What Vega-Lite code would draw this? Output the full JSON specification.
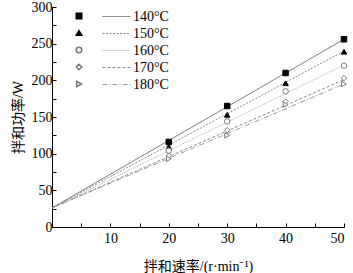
{
  "$schema": "https://vega.github.io/schema/vega-lite/v6.json",
  "width": 292,
  "height": 220,
  "autosize": "none",
  "padding": {"left": 52, "top": 7, "right": 9, "bottom": 46},
  "background": "white",
  "config": {
    "view": {"stroke": null},
    "font": "Liberation Serif",
    "axis": {"grid": false, "domainColor": "#000", "tickColor": "#000", "labelColor": "#000", "titleColor": "#000", "labelFont": "Liberation Serif", "titleFont": "Liberation Serif, Noto Sans CJK SC", "labelFontSize": 14, "titleFontSize": 14, "titleFontWeight": "normal", "tickSize": -4, "domainWidth": 1, "tickWidth": 1},
    "legend": {"labelFont": "Liberation Serif", "labelFontSize": 14, "labelColor": "#000"}
  },
  "datasets": {
    "pts": [
      {"speed": 20, "power": 116, "temp": 140},
      {"speed": 30, "power": 165, "temp": 140},
      {"speed": 40, "power": 210, "temp": 140},
      {"speed": 50, "power": 256, "temp": 140},
      {"speed": 20, "power": 109, "temp": 150},
      {"speed": 30, "power": 153, "temp": 150},
      {"speed": 40, "power": 196, "temp": 150},
      {"speed": 50, "power": 239, "temp": 150},
      {"speed": 20, "power": 104, "temp": 160},
      {"speed": 30, "power": 144, "temp": 160},
      {"speed": 40, "power": 185, "temp": 160},
      {"speed": 50, "power": 220, "temp": 160},
      {"speed": 20, "power": 97, "temp": 170},
      {"speed": 30, "power": 132, "temp": 170},
      {"speed": 40, "power": 171, "temp": 170},
      {"speed": 50, "power": 203, "temp": 170},
      {"speed": 20, "power": 93, "temp": 180},
      {"speed": 30, "power": 125, "temp": 180},
      {"speed": 40, "power": 167, "temp": 180},
      {"speed": 50, "power": 195, "temp": 180}
    ],
    "fits": [
      {"speed": 0, "power": 26, "fit": "140°C"},
      {"speed": 50, "power": 256, "fit": "140°C"},
      {"speed": 0, "power": 26, "fit": "150°C"},
      {"speed": 50, "power": 240, "fit": "150°C"},
      {"speed": 0, "power": 26, "fit": "160°C"},
      {"speed": 50, "power": 221, "fit": "160°C"},
      {"speed": 0, "power": 26, "fit": "170°C"},
      {"speed": 50, "power": 201, "fit": "170°C"},
      {"speed": 0, "power": 26, "fit": "180°C"},
      {"speed": 50, "power": 195, "fit": "180°C"}
    ]
  },
  "encoding": {
    "x": {"field": "speed", "type": "quantitative", "scale": {"domain": [0, 50], "nice": false},
      "axis": {"title": "拌和速率/(r·min⁻¹)", "values": [0, 5, 10, 15, 20, 25, 30, 35, 40, 45, 50], "labelExpr": "datum.value % 10 === 0 && datum.value > 0 ? datum.label : ''", "labelPadding": 8, "titlePadding": 14}},
    "y": {"field": "power", "type": "quantitative", "scale": {"domain": [0, 300], "nice": false},
      "axis": {"title": "拌和功率/W", "values": [0, 25, 50, 75, 100, 125, 150, 175, 200, 225, 250, 275, 300], "labelExpr": "datum.value % 50 === 0 ? datum.label : ''", "labelPadding": 4, "titlePadding": 6}}
  },
  "layer": [
    {
      "data": {"name": "fits"},
      "mark": {"type": "line", "strokeWidth": 1, "clip": true},
      "encoding": {
        "detail": {"field": "fit"},
        "color": {"field": "fit", "type": "nominal", "scale": {"domain": ["140°C", "150°C", "160°C", "170°C", "180°C"], "range": ["#6a6a6a", "#8a8a8a", "#b0b0b0", "#8a8a8a", "#9a9a9a"]},
          "legend": {"title": null, "orient": "none", "legendX": 57, "legendY": 2, "symbolType": "M-2,0H2", "symbolSize": 196, "symbolStrokeWidth": 1, "rowPadding": 2, "labelOffset": 9}},
        "strokeDash": {"field": "fit", "type": "nominal", "scale": {"domain": ["140°C", "150°C", "160°C", "170°C", "180°C"], "range": [[1, 0], [2, 1.5], [1, 1], [3, 2], [5, 2, 1, 2]]}}
      }
    },
    {
      "data": {"name": "pts"},
      "mark": {"type": "point", "filled": true, "size": 30, "strokeWidth": 1, "opacity": 1},
      "encoding": {
        "shape": {"field": "temp", "type": "nominal", "scale": {"domain": [140, 150, 160, 170, 180], "range": ["square", "triangle-up", "circle", "diamond", "triangle-right"]},
          "legend": {"title": null, "orient": "none", "legendX": 20, "legendY": 2, "labelExpr": "''", "rowPadding": 3, "symbolSize": 30}},
        "fill": {"field": "temp", "type": "nominal", "scale": {"domain": [140, 150, 160, 170, 180], "range": ["#000", "#000", "#fff", "#fff", "#fff"]}},
        "stroke": {"field": "temp", "type": "nominal", "scale": {"domain": [140, 150, 160, 170, 180], "range": ["#000", "#000", "#777", "#777", "#777"]}}
      }
    }
  ]
}
